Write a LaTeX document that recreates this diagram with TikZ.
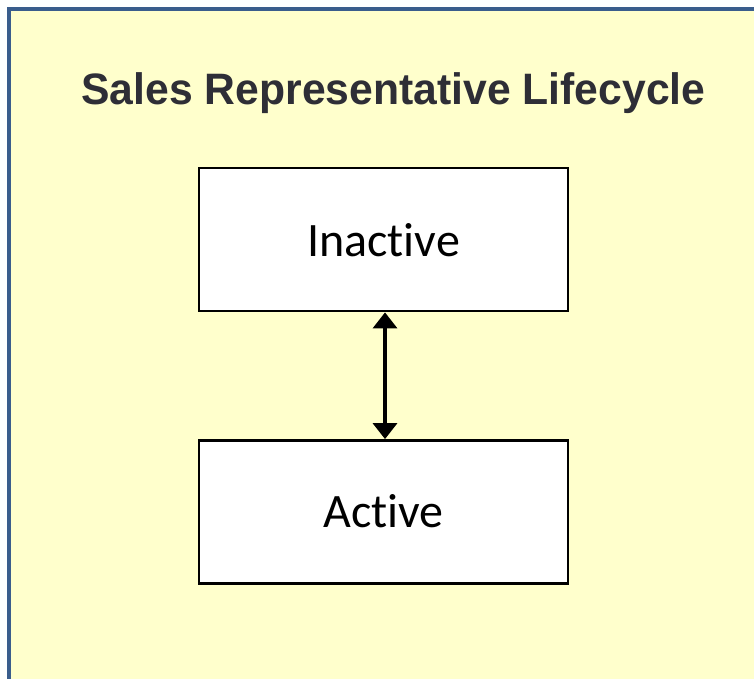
\documentclass[tikz,border=0pt]{standalone}
\usepackage{fontspec}
\setmainfont{Liberation Sans}
\newfontfamily\boxfont[Ligatures={NoCommon}]{Carlito}
\usetikzlibrary{arrows.meta}
\definecolor{bgyellow}{HTML}{FFFFCC}
\definecolor{frameblue}{HTML}{3A5D8C}
\definecolor{titlegray}{HTML}{2E2E36}
\tikzset{
  statebox/.style={draw=black, line width=2.8pt, fill=white, minimum width=369pt, minimum height=143pt, inner sep=0pt},
  boxlabel/.style={font=\boxfont\fontsize{48}{56}\selectfont, anchor=base, inner sep=0pt},
  link/.style={line width=3.5pt, {Triangle[width=24pt,length=16pt]}-{Triangle[width=24pt,length=16pt]}}
}
\begin{document}
\begin{tikzpicture}[x=1pt,y=-1pt]
\useasboundingbox (0,0) rectangle (754,679);
\fill[white] (0,0) rectangle (754,679);
\draw[frameblue, line width=4pt, fill=bgyellow] (9,9) rectangle (790,720);
\node[anchor=base, inner sep=0pt, text=titlegray, font=\bfseries\fontsize{44}{50}\selectfont] (title) at (393.5,105) {\scalebox{0.97}[1]{Sales Representative Lifecycle}};
\node[statebox] (inactive) at (383.5,239.5) {};
\node[boxlabel] (inactivelbl) at (383.5,256) {Inactive};
\node[statebox] (active) at (383.5,512) {};
\node[boxlabel] (activelbl) at (383.5,527.5) {Active};
\draw[link] (inactive.south -| 385,0) -- (active.north -| 385,0);
\end{tikzpicture}
\end{document}
